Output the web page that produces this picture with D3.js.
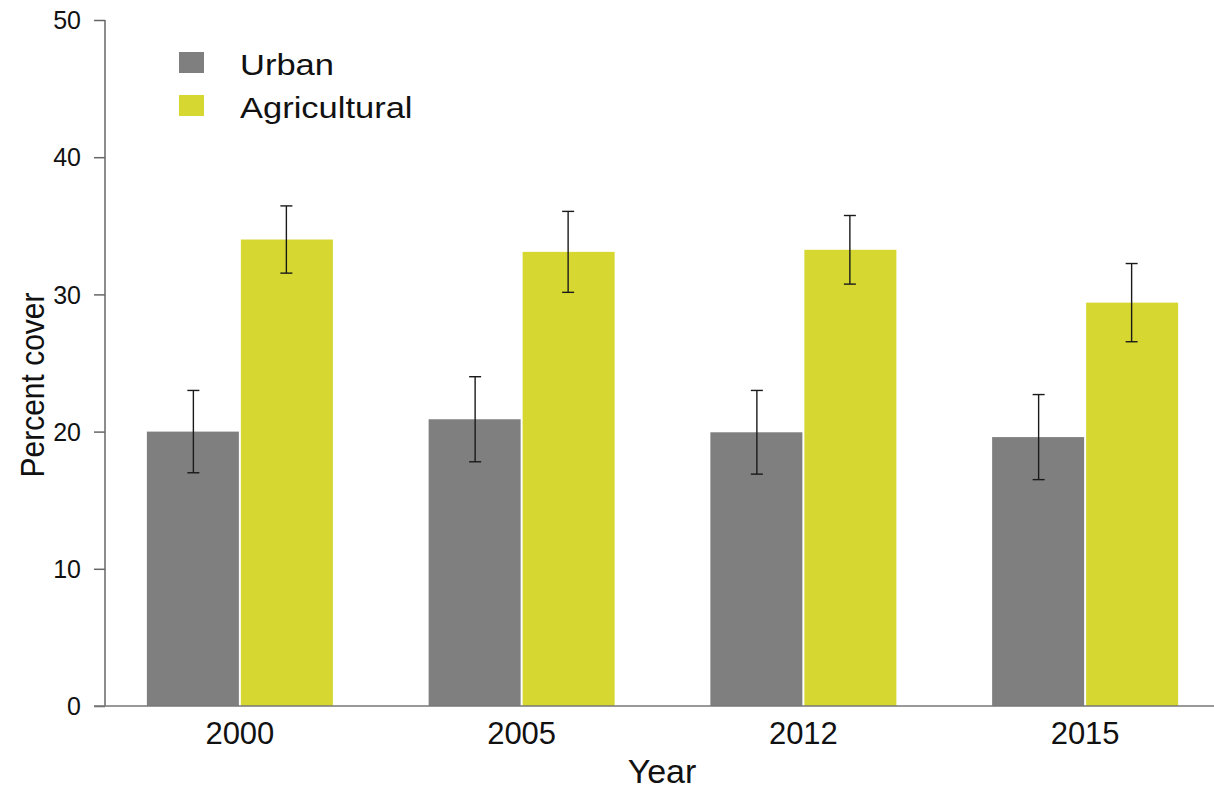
<!DOCTYPE html>
<html>
<head>
<meta charset="utf-8">
<script src="https://cdn.jsdelivr.net/npm/d3@7/dist/d3.min.js"></script>
<style>
  html, body { margin: 0; padding: 0; background: #fff; }
  svg { display: block; font-family: "Liberation Sans", Arial, sans-serif; }
</style>
</head>
<body>
<svg id="chart" width="1214" height="792"></svg>
<script>
// Land-cover data by survey year (mean percent cover and ± error)
const years = ["2000", "2005", "2012", "2015"];
const series = ["Urban", "Agricultural"];
const urbanMean = [20.0, 20.9, 19.95, 19.6];
const urbanErr = [3.0, 3.1, 3.05, 3.1];
const agriMean = [34.0, 33.1, 33.25, 29.4];
const agriErr = [2.45, 2.95, 2.5, 2.85];
const yTicks = [0, 10, 20, 30, 40, 50];
const colors = ["#7f7f7f", "#d6d731"];

const means = [urbanMean, agriMean];
const errs = [urbanErr, agriErr];
const rows = [];
years.forEach((yr, i) => {
  series.forEach((s, j) => {
    rows.push({ year: yr, series: s, mean: means[j][i], err: errs[j][i], color: colors[j] });
  });
});

const svg = d3.select("#chart");
const axisX = 105, baseY = 706, topY = 20;

const y = d3.scaleLinear().domain([0, 50]).range([baseY, topY]);
const x0 = d3.scaleBand().domain(years).range([99, 1226]).padding(0);
const groupW = 186;
const x1 = d3.scaleBand().domain(series).range([-groupW / 2, groupW / 2]).padding(0);
const cx = d => x0(d.year) + x0.bandwidth() / 2;

// Bars
svg.append("g").selectAll("rect").data(rows).join("rect")
  .attr("x", d => cx(d) + x1(d.series) + (d.series === "Agricultural" ? 1 : 0))
  .attr("width", x1.bandwidth() - 1)
  .attr("y", d => y(d.mean))
  .attr("height", d => y(0) - y(d.mean))
  .attr("fill", d => d.color);

// Error bars
const eb = svg.append("g").attr("stroke", "#1a1a1a").attr("stroke-width", 1.4);
rows.forEach(d => {
  const xc = cx(d) + x1(d.series) + x1.bandwidth() / 2;
  eb.append("line").attr("x1", xc).attr("x2", xc).attr("y1", y(d.mean - d.err)).attr("y2", y(d.mean + d.err));
  eb.append("line").attr("x1", xc - 6).attr("x2", xc + 6).attr("y1", y(d.mean + d.err)).attr("y2", y(d.mean + d.err));
  eb.append("line").attr("x1", xc - 6).attr("x2", xc + 6).attr("y1", y(d.mean - d.err)).attr("y2", y(d.mean - d.err));
});

// Y axis
const yAxis = svg.append("g").attr("transform", `translate(${axisX},0)`)
  .call(d3.axisLeft(y).tickValues(yTicks).tickSize(11).tickPadding(13).tickFormat(d3.format("d")));
yAxis.select(".domain").attr("stroke", "#666").attr("stroke-width", 1.5).attr("d", `M0,${topY}V${baseY}`);
yAxis.selectAll(".tick line").attr("stroke", "#666").attr("stroke-width", 1.5);
yAxis.selectAll(".tick text").attr("font-size", 25).attr("fill", "#111").attr("dy", "0.35em");

// X axis
const xAxis = svg.append("g").attr("transform", `translate(0,${baseY})`)
  .call(d3.axisBottom(x0).tickSize(0).tickPadding(16));
xAxis.select(".domain").attr("stroke", "#777").attr("stroke-width", 1.5).attr("d", `M94,0H1214`);
xAxis.selectAll(".tick text").attr("font-size", 31).attr("fill", "#111");

// Axis titles
svg.append("text")
  .attr("transform", "translate(44,385) rotate(-90) scale(1,1.12)")
  .attr("text-anchor", "middle").attr("font-size", 30).attr("fill", "#111")
  .text("Percent cover");
svg.append("text")
  .attr("x", 662).attr("y", 783)
  .attr("text-anchor", "middle").attr("font-size", 34).attr("fill", "#111")
  .text("Year");

// Legend
const legend = svg.append("g").selectAll("g").data(series).join("g")
  .attr("transform", (d, i) => `translate(179,${52 + i * 43})`);
legend.append("rect").attr("width", 25).attr("height", 21).attr("fill", (d, i) => colors[i]);
legend.append("text")
  .attr("transform", "translate(61,23) scale(1.19,1)")
  .attr("font-size", 29).attr("fill", "#111").text(d => d);
</script>
</body>
</html>
